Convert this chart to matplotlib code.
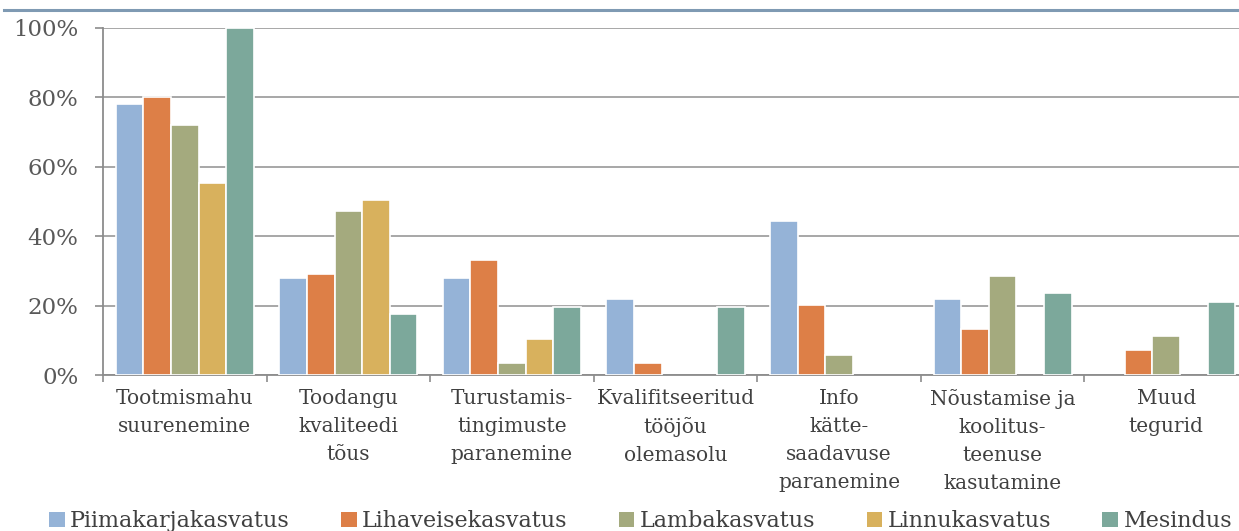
import numpy as np
import matplotlib
matplotlib.use("Agg")
import matplotlib.pyplot as plt
from matplotlib.lines import Line2D
from matplotlib.patches import Patch

# Data (share of respondents, %)
categories = [
    "Tootmismahu\nsuurenemine",
    "Toodangu\nkvaliteedi\ntõus",
    "Turustamis-\ntingimuste\nparanemine",
    "Kvalifitseeritud\ntööjõu\nolemasolu",
    "Info\nkätte-\nsaadavuse\nparanemine",
    "Nõustamise ja\nkoolitus-\nteenuse\nkasutamine",
    "Muud\ntegurid",
]
series_names = ["Piimakarjakasvatus", "Lihaveisekasvatus", "Lambakasvatus",
                "Linnukasvatus", "Mesindus"]
piim = [78, 28, 28, 22, 44.5, 22, 0]
liha = [80, 29, 33, 3.4, 20.3, 13.4, 7.1]
lamba = [72, 47.3, 3.4, 0, 5.7, 28.4, 11.2]
linnu = [55.2, 50.3, 10.5, 0, 0, 0, 0]
mesi = [100, 17.6, 19.5, 19.5, 0, 23.6, 21]
colors = ["#95b3d7", "#dd7f47", "#a4aa7e", "#d8b15d", "#7ca89b"]

plt.rcParams['font.family'] = ['DejaVu Serif']

fig = plt.figure(figsize=(12.39, 5.31), dpi=100)
W, H = 1239, 531
left, right, top, bottom = 103, 1248, 28, 375
ax = fig.add_axes([left / W, 1 - bottom / H, (right - left) / W, (bottom - top) / H])

x = np.arange(len(categories))
bw = 0.169
all_series = [piim, liha, lamba, linnu, mesi]
for i, (vals, c) in enumerate(zip(all_series, colors)):
    vals = np.array(vals, dtype=float)
    keep = vals > 0
    ax.bar(x[keep] + (i - 2) * bw, vals[keep], width=bw, color=c,
           edgecolor='white', linewidth=1.2, zorder=3)

ax.set_ylim(0, 100)
ax.set_xlim(-0.5, len(categories) - 0.5)
ax.set_yticks(range(0, 101, 20))
ax.set_yticklabels([f"{v}%" for v in range(0, 101, 20)], fontsize=16.5, color='#595959')
ax.yaxis.grid(True, color='#a0a0a0', linewidth=1.3, zorder=0)

ax.set_xticks(x)
ax.set_xticklabels(categories, fontsize=14.5, color='#404040', linespacing=1.6)
ax.set_xticks(np.arange(-0.5, len(categories), 1), minor=True)
ax.tick_params(axis='x', which='major', length=0, pad=10)
ax.tick_params(axis='x', which='minor', length=5, color='#8c8c8c', width=1.2)
ax.tick_params(axis='y', length=5.8, color='#8c8c8c', width=1.2, pad=12)

for s in ['top', 'right']:
    ax.spines[s].set_visible(False)
for s in ['left', 'bottom']:
    ax.spines[s].set_color('#8c8c8c')
    ax.spines[s].set_linewidth(1.3)

# header rule above the chart
fig.add_artist(Line2D([4 / W, 1], [1 - 10 / H, 1 - 10 / H], color='#7f9ab3',
                      linewidth=2.2, transform=fig.transFigure))

handles = [Patch(facecolor=c, edgecolor='none') for c in colors]
fig.legend(handles, series_names, loc='lower center', ncol=5,
           bbox_to_anchor=(0.517, -0.04), frameon=False, fontsize=16,
           handlelength=0.7, handleheight=0.7, handletextpad=0.25,
           columnspacing=2.3, labelcolor='#404040')

fig.savefig("out.png", dpi=100)
